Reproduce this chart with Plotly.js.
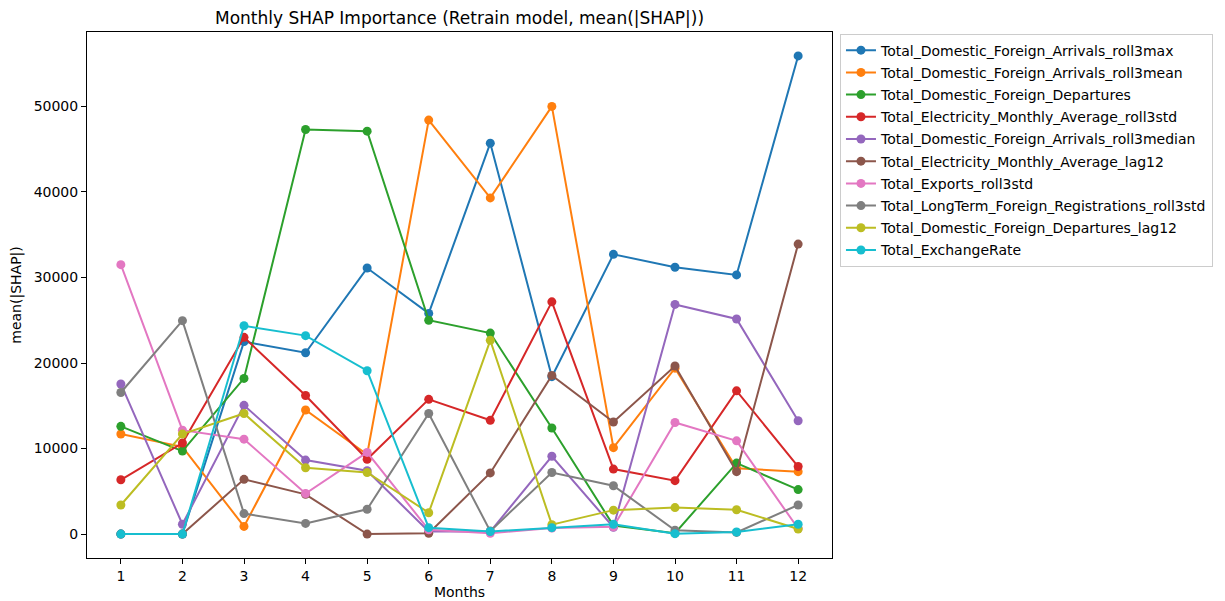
<!DOCTYPE html>
<html>
<head>
<meta charset="utf-8">
<script src="https://cdn.plot.ly/plotly-3.0.1.min.js"></script>
<style>html,body{margin:0;padding:0;background:#fff;}#chart{width:1225px;height:601px;}</style>
</head>
<body>
<div id="chart"></div>
<script>
const months = [1,2,3,4,5,6,7,8,9,10,11,12];
const seriesNames = [
  "Total_Domestic_Foreign_Arrivals_roll3max",
  "Total_Domestic_Foreign_Arrivals_roll3mean",
  "Total_Domestic_Foreign_Departures",
  "Total_Electricity_Monthly_Average_roll3std",
  "Total_Domestic_Foreign_Arrivals_roll3median",
  "Total_Electricity_Monthly_Average_lag12",
  "Total_Exports_roll3std",
  "Total_LongTerm_Foreign_Registrations_roll3std",
  "Total_Domestic_Foreign_Departures_lag12",
  "Total_ExchangeRate"
];
const arrivalsRoll3max    = [0, 0, 22500, 21200, 31100, 25800, 45700, 18400, 32700, 31200, 30300, 55900];
const arrivalsRoll3mean   = [11700, 10200, 900, 14500, 9300, 48400, 39300, 50000, 10100, 19400, 7700, 7300];
const departures          = [12600, 9700, 18200, 47300, 47100, 25000, 23500, 12400, 1000, 100, 8300, 5200];
const electricityRoll3std = [6350, 10650, 23000, 16200, 8750, 15750, 13300, 27150, 7600, 6250, 16750, 7900];
const arrivalsRoll3median = [17550, 1150, 15050, 8650, 7400, 300, 300, 9100, 800, 26850, 25150, 13250];
const electricityLag12    = [0, 0, 6400, 4650, 0, 100, 7150, 18550, 13100, 19650, 7300, 33900];
const exportsRoll3std     = [31500, 12150, 11100, 4750, 9550, 500, 100, 700, 850, 13050, 10900, 650];
const longTermRoll3std    = [16550, 24950, 2400, 1250, 2900, 14100, 350, 7200, 5650, 450, 200, 3400];
const departuresLag12     = [3400, 11700, 14100, 7750, 7200, 2500, 22650, 1100, 2800, 3100, 2850, 600];
const exchangeRate        = [0, 0, 24350, 23200, 19100, 750, 300, 750, 1150, 50, 250, 1150];
const seriesValues = [arrivalsRoll3max, arrivalsRoll3mean, departures, electricityRoll3std,
  arrivalsRoll3median, electricityLag12, exportsRoll3std, longTermRoll3std, departuresLag12, exchangeRate];
const colors = ["#1f77b4","#ff7f0e","#2ca02c","#d62728","#9467bd","#8c564b","#e377c2","#7f7f7f","#bcbd22","#17becf"];

const traces = seriesNames.map((n, i) => ({
  x: months, y: seriesValues[i], name: n, type: 'scatter', mode: 'lines+markers',
  legendgroup: 'g' + i,
  line: {color: colors[i], width: 2},
  marker: {color: colors[i], size: 9}
}));

const axisCommon = {
  showline: true, mirror: true, linecolor: '#000', linewidth: 1,
  ticks: 'outside', ticklen: 5, tickwidth: 1, tickcolor: '#000',
  showgrid: false, zeroline: false,
  tickfont: {size: 14, color: '#000'}
};

const layout = {
  width: 1225, height: 601,
  margin: {l: 87, r: 393, t: 32, b: 43},
  paper_bgcolor: '#fff', plot_bgcolor: '#fff',
  font: {family: 'DejaVu Sans', color: '#000', size: 14},
  title: {text: 'Monthly SHAP Importance (Retrain model, mean(|SHAP|))', x: 0.5, xref: 'paper', y: 0.97, yref: 'container', yanchor: 'middle', font: {size: 17, color: '#000'}},
  xaxis: Object.assign({}, axisCommon, {
    range: [0.45, 12.55], tickmode: 'array', tickvals: months, ticktext: months.map(String),
    title: {text: 'Months', font: {size: 14}, standoff: 4}
  }),
  yaxis: Object.assign({}, axisCommon, {
    range: [-2795, 58695], tickmode: 'array', tickvals: [0,10000,20000,30000,40000,50000],
    ticktext: ['0','10000','20000','30000','40000','50000'],
    title: {text: 'mean(|SHAP|)', font: {size: 14}, standoff: 8}
  }),
  showlegend: true,
  legend: {
    x: 1.0107, xanchor: 'left', y: 0.997, yanchor: 'top',
    bordercolor: '#ccc', borderwidth: 1, bgcolor: '#fff',
    font: {size: 14, color: '#000'}, tracegroupgap: 1, itemwidth: 30
  }
};

Plotly.newPlot('chart', traces, layout, {displayModeBar: false, staticPlot: true});
</script>
</body>
</html>
